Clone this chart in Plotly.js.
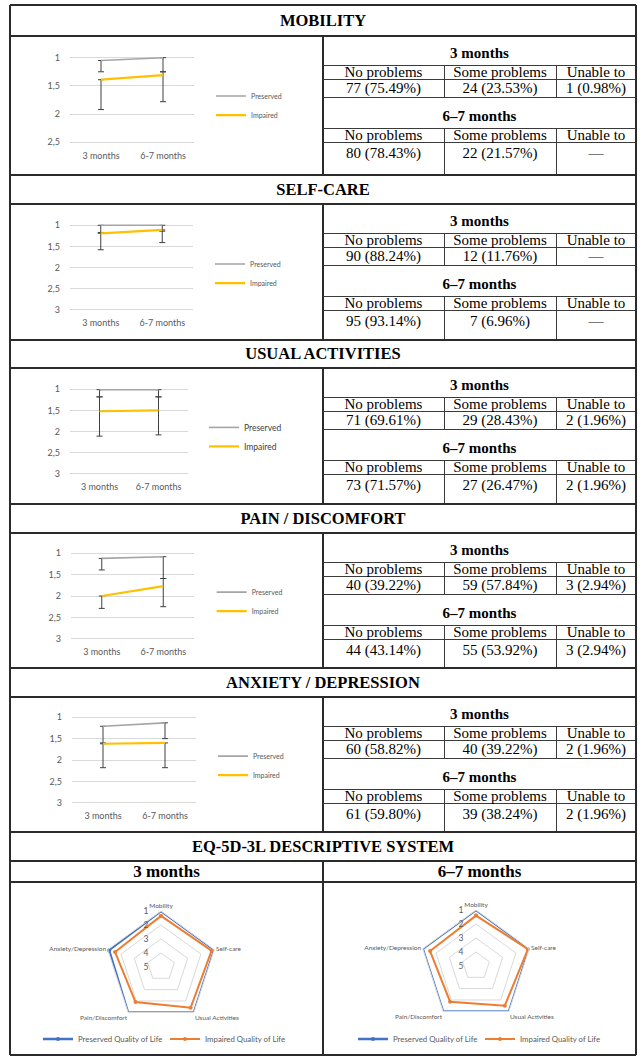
<!DOCTYPE html>
<html><head><meta charset="utf-8">
<script src="https://cdn.plot.ly/plotly-3.0.1.min.js"></script>
<style>
html,body{margin:0;padding:0;background:#fff;}
#page{position:relative;width:638px;height:1057px;overflow:hidden;font-family:"Liberation Serif","Times New Roman",serif;color:#000;}
.tx{font-family:"Liberation Serif","Times New Roman","DejaVu Serif",serif !important;color:#000;}
</style></head><body><div id="page"></div>
<script>
// ---------- DATA ----------
const dimensionTitles = ['MOBILITY','SELF-CARE','USUAL ACTIVITIES','PAIN / DISCOMFORT','ANXIETY / DEPRESSION'];
const timepoints = ['3 months','6-7 months'];
const tableTimepoints = ['3 months','6–7 months'];
const responseLevels = ['No problems','Some problems','Unable to'];

// counts and percentages per level (null = none)
const mobilityCounts3m = [77,24,1];   const mobilityPct3m = [75.49,23.53,0.98];
const mobilityCounts67m = [80,22,null]; const mobilityPct67m = [78.43,21.57,null];
const selfCareCounts3m = [90,12,null]; const selfCarePct3m = [88.24,11.76,null];
const selfCareCounts67m = [95,7,null]; const selfCarePct67m = [93.14,6.96,null];
const usualCounts3m = [71,29,2]; const usualPct3m = [69.61,28.43,1.96];
const usualCounts67m = [73,27,2]; const usualPct67m = [71.57,26.47,1.96];
const painCounts3m = [40,59,3]; const painPct3m = [39.22,57.84,2.94];
const painCounts67m = [44,55,3]; const painPct67m = [43.14,53.92,2.94];
const anxietyCounts3m = [60,40,2]; const anxietyPct3m = [58.82,39.22,1.96];
const anxietyCounts67m = [61,39,2]; const anxietyPct67m = [59.80,38.24,1.96];

// line-chart mean levels and error bars
const mobilityPreserved = [1.05,1.0]; const mobilityPreservedErr = [0.2,0.25];
const mobilityImpaired = [1.39,1.31]; const mobilityImpairedErr = [0.53,0.47]; const mobilityImpairedErrMinus = [0,0.06];
const selfCarePreserved = [1.0,1.0]; const selfCarePreservedErr = [0.17,0.14];
const selfCareImpaired = [1.19,1.11]; const selfCareImpairedErr = [0.39,0.3]; const selfCareImpairedErrMinus = [0,0];
const usualPreserved = [1.01,1.01]; const usualPreservedErr = [0.17,0.17];
const usualImpaired = [1.52,1.5]; const usualImpairedErr = [0.59,0.58]; const usualImpairedErrMinus = [0.34,0.32];
const painPreserved = [1.12,1.08]; const painPreservedErr = [0.27,0.51];
const painImpaired = [2.0,1.77]; const painImpairedErr = [0.29,0.48]; const painImpairedErrMinus = [0,0.18];
const anxietyPreserved = [1.21,1.13]; const anxietyPreservedErr = [0.39,0.37];
const anxietyImpaired = [1.62,1.6]; const anxietyImpairedErr = [0.56,0.58]; const anxietyImpairedErrMinus = [0,0];

const yTicksShort = [1,1.5,2,2.5]; const yTickTextShort = ['1','1,5','2','2,5'];
const yTicksLong = [1,1.5,2,2.5,3]; const yTickTextLong = ['1','1,5','2','2,5','3'];

// radar
const radarAxes = ['Mobility','Self-care','Usual Activities','Pain/Discomfort','Anxiety/Depression'];
const radarPreserved3m = [1.0,1.0,1.0,1.0,1.1];
const radarImpaired3m = [1.35,1.2,1.4,1.9,1.55];
const radarPreserved67m = [1.0,1.0,1.0,1.0,1.0];
const radarImpaired67m = [1.4,1.1,1.5,1.85,1.55];
const radarTicks = [1,2,3,4,5];
const radarTickText = ['1','2','3','4','5'];

// ---------- LAYOUT ----------
const page = document.getElementById('page');
const L=10, R=636, T=5, B=1055, MID=323, C1=444, C2=556;
const MAJ='#2b2b2b', MIN='#3a3a3a';
function box(x,y,w,h,bg){const d=document.createElement('div');d.style.cssText=`position:absolute;left:${x}px;top:${y}px;width:${w}px;height:${h}px;background:${bg};z-index:5`;page.appendChild(d);return d;}
function hline(x1,x2,y,t,c){box(x1,y-t/2,x2-x1,t,c);}
function vline(x,y1,y2,t,c){box(x-t/2,y1,t,y2-y1,c);}
function text(str,cx,cy,w,h,size,bold){const d=document.createElement('div');d.className='tx';d.textContent=str;d.style.cssText=`position:absolute;left:${cx-w/2}px;top:${cy-h/2}px;width:${w}px;height:${h}px;line-height:${h}px;text-align:center;font-family:'Liberation Serif','Times New Roman',serif;font-size:${size}px;font-weight:${bold?'bold':'normal'};white-space:nowrap;z-index:6`;page.appendChild(d);}
function fmt(c,p){return c===null?'—':`${c} (${p.toFixed(2)}%)`;}

const sections = [
 {top:5, hb:36, bottom:175, grid:{t:57.3,b:142,l:70,r:194}, yMax:2.5, ticks:yTicksShort, tickText:yTickTextShort, leg:{x:216,y:95.7}, legFont:7,
  pres:mobilityPreserved, presErr:mobilityPreservedErr, imp:mobilityImpaired, impErr:mobilityImpairedErr, impErrM:mobilityImpairedErrMinus,
  c3:mobilityCounts3m, p3:mobilityPct3m, c67:mobilityCounts67m, p67:mobilityPct67m},
 {top:175, hb:204, bottom:340, grid:{t:225.5,b:310,l:70,r:193}, yMax:3, ticks:yTicksLong, tickText:yTickTextLong, leg:{x:215,y:264.3}, legFont:7,
  pres:selfCarePreserved, presErr:selfCarePreservedErr, imp:selfCareImpaired, impErr:selfCareImpairedErr, impErrM:selfCareImpairedErrMinus,
  c3:selfCareCounts3m, p3:selfCarePct3m, c67:selfCareCounts67m, p67:selfCarePct67m},
 {top:340, hb:368, bottom:504, grid:{t:389.3,b:473.3,l:70,r:188}, yMax:3, ticks:yTicksLong, tickText:yTickTextLong, leg:{x:209,y:427.3}, legFont:8.5,
  pres:usualPreserved, presErr:usualPreservedErr, imp:usualImpaired, impErr:usualImpairedErr, impErrM:usualImpairedErrMinus,
  c3:usualCounts3m, p3:usualPct3m, c67:usualCounts67m, p67:usualPct67m},
 {top:504, hb:533, bottom:668, grid:{t:553.3,b:638.3,l:71,r:194.3}, yMax:3, ticks:yTicksLong, tickText:yTickTextLong, leg:{x:217,y:592}, legFont:7,
  pres:painPreserved, presErr:painPreservedErr, imp:painImpaired, impErr:painImpairedErr, impErrM:painImpairedErrMinus,
  c3:painCounts3m, p3:painPct3m, c67:painCounts67m, p67:painPct67m},
 {top:668, hb:697, bottom:832, grid:{t:717.3,b:802.3,l:71.7,r:196}, yMax:3, ticks:yTicksLong, tickText:yTickTextLong, leg:{x:218,y:756}, legFont:7,
  pres:anxietyPreserved, presErr:anxietyPreservedErr, imp:anxietyImpaired, impErr:anxietyImpairedErr, impErrM:anxietyImpairedErrMinus,
  c3:anxietyCounts3m, p3:anxietyPct3m, c67:anxietyCounts67m, p67:anxietyPct67m}
];

const config = {staticPlot:true, displayModeBar:false};
const colX = [(MID+C1)/2,(C1+C2)/2,(C2+R)/2];
const chartFont = 'Lato, "Open Sans", sans-serif';

// outer frame
hline(L,R,T,1.5,MAJ); hline(L,R,B,1.5,MAJ);
vline(L,T,B,1.5,MAJ); vline(R,T,B,1.5,MAJ);

sections.forEach((s,i)=>{
  if(i>0) hline(L,R,s.top,1.5,MAJ);
  hline(L,R,s.hb,1.5,MAJ);
  vline(MID,s.hb,s.bottom,1.2,MAJ);
  text(dimensionTitles[i],(L+R)/2,(s.top+s.hb)/2,500,24,16.5,true);
  const rows=[29,43,61,92,106];
  rows.forEach(r=>hline(MID,R,s.hb+r,1,MIN));
  [C1,C2].forEach(x=>{vline(x,s.hb+29,s.hb+61,1,MIN); vline(x,s.hb+92,s.bottom,1,MIN);});
  text(tableTimepoints[0],(MID+R)/2,s.hb+16.5,300,22,15,true);
  text(tableTimepoints[1],(MID+R)/2,s.hb+80,300,22,15,true);
  for(let k=0;k<3;k++){
    text(responseLevels[k],colX[k],s.hb+36,110,16,15,false);
    text(fmt(s.c3[k],s.p3[k]),colX[k],s.hb+52,110,18,15,false);
    text(responseLevels[k],colX[k],s.hb+99,110,16,15,false);
    text(fmt(s.c67[k],s.p67[k]),colX[k],s.hb+116.5,110,20,15,false);
  }
  // chart
  const divL=11, divT=s.hb+1, divW=MID-1-divL, divH=s.bottom-s.hb-1;
  const g=s.grid, pad=0.03, ppu=(g.b-g.t)/(s.yMax-1);
  const pT=g.t-pad*ppu, pB=g.b+pad*ppu;
  const d=document.createElement('div');
  d.style.cssText=`position:absolute;left:${divL}px;top:${divT}px;width:${divW}px;height:${divH}px;z-index:1`;
  page.appendChild(d);
  const legLeft=s.leg.x-5, legTop=s.leg.y-14.5;
  const traces=[
    {x:timepoints,y:s.pres,type:'scatter',mode:'lines',name:'Preserved',line:{color:'#A5A5A5',width:1.6},cliponaxis:false,
     error_y:{type:'data',symmetric:false,array:s.presErr,arrayminus:[0,0],color:'#404040',thickness:1,width:3}},
    {x:timepoints,y:s.imp,type:'scatter',mode:'lines',name:'Impaired',line:{color:'#FFC000',width:2.2},cliponaxis:false,
     error_y:{type:'data',symmetric:false,array:s.impErr,arrayminus:s.impErrM,color:'#404040',thickness:1,width:3}}
  ];
  const layout={
    width:divW,height:divH,
    margin:{l:g.l-divL,r:divL+divW-g.r,t:pT-divT,b:divT+divH-pB,pad:0},
    paper_bgcolor:'rgba(0,0,0,0)',plot_bgcolor:'rgba(0,0,0,0)',
    font:{family:chartFont,color:'#595959'},
    xaxis:{type:'category',range:[-0.5,1.5],showgrid:false,zeroline:false,showline:false,ticks:'',tickfont:{size:9,color:'#595959',family:chartFont},ticklabelstandoff:5,fixedrange:true},
    yaxis:{range:[s.yMax+pad,1-pad],tickvals:s.ticks,ticktext:s.tickText,showgrid:true,gridcolor:'#D9D9D9',gridwidth:1,zeroline:false,showline:false,ticks:'',tickfont:{size:9,color:'#595959',family:chartFont},ticklabelstandoff:9,fixedrange:true},
    showlegend:true,
    legend:{x:(legLeft-g.l)/(g.r-g.l),y:(pB-legTop)/(pB-pT),xanchor:'left',yanchor:'top',bgcolor:'rgba(0,0,0,0)',borderwidth:0,
      font:{size:s.legFont,color:i===2?'#404040':'#595959',family:chartFont},itemwidth:30,traceorder:'normal'}
  };
  Plotly.newPlot(d,traces,layout,config);
});

// EQ-5D section
const eqTop=832, eqHb=861, eqSub=882;
hline(L,R,eqTop,1.5,MAJ); hline(L,R,eqHb,1.5,MAJ); hline(L,R,eqSub,1.5,MAJ);
vline(MID,eqHb,B,1.2,MAJ);
text('EQ-5D-3L DESCRIPTIVE SYSTEM',(L+R)/2,(eqTop+eqHb)/2,560,24,16.5,true);
text(tableTimepoints[0],(L+MID)/2,(eqHb+eqSub)/2+0.5,300,22,17,true);
text(tableTimepoints[1],(MID+R)/2,(eqHb+eqSub)/2+0.5,300,22,17,true);

function radar(left,cx,cy,Rr,pres,imp){
  const divT=eqSub+1, divW=MID-1-L, divH=B-eqSub-2;
  const d=document.createElement('div');
  d.style.cssText=`position:absolute;left:${left}px;top:${divT}px;width:${divW}px;height:${divH}px;z-index:1`;
  page.appendChild(d);
  const lcx=cx-left, lcy=cy-divT;
  const th=radarAxes.concat([radarAxes[0]]);
  const traces=[
    {type:'scatterpolar',r:pres.concat([pres[0]]),theta:th,mode:'lines+markers',name:'Preserved Quality of Life',
     line:{color:'#4472C4',width:2.3},marker:{size:4,color:'#4472C4'},cliponaxis:false},
    {type:'scatterpolar',r:imp.concat([imp[0]]),theta:th,mode:'lines+markers',name:'Impaired Quality of Life',
     line:{color:'#ED7D31',width:2},marker:{size:4,color:'#ED7D31'},cliponaxis:false}
  ];
  const nb='\u00a0\u00a0\u00a0\u00a0\u00a0';
  const layout={
    width:divW,height:divH,margin:{l:0,r:0,t:0,b:0,pad:0},
    paper_bgcolor:'rgba(0,0,0,0)',
    font:{family:chartFont,color:'#595959'},
    polar:{
      domain:{x:[(lcx-Rr)/divW,(lcx+Rr)/divW],y:[(divH-lcy-Rr)/divH,(divH-lcy+Rr)/divH]},
      gridshape:'linear',bgcolor:'rgba(0,0,0,0)',
      radialaxis:{range:[5,1],tickvals:radarTicks,ticktext:radarTickText.map(t=>t+nb),angle:90,tickangle:90,side:'counterclockwise',showline:false,ticks:'',gridcolor:'#D9D9D9',tickfont:{size:8.5,color:'#595959',family:chartFont}},
      angularaxis:{type:'category',categoryarray:radarAxes,direction:'clockwise',rotation:90,showgrid:false,showline:true,linecolor:'#D9D9D9',ticks:'',tickfont:{size:6.5,color:'#595959',family:chartFont}}
    },
    showlegend:true,
    legend:{orientation:'h',x:(cx+4-left)/divW,y:(divH-(1039-divT))/divH,xanchor:'center',yanchor:'middle',font:{size:7.8,color:'#595959',family:chartFont},itemwidth:30,entrywidth:82}
  };
  Plotly.newPlot(d,traces,layout,config);
}
radar(11,161,967,56,radarPreserved3m,radarImpaired3m);
radar(324,476,966,56,radarPreserved67m,radarImpaired67m);
</script></body></html>
